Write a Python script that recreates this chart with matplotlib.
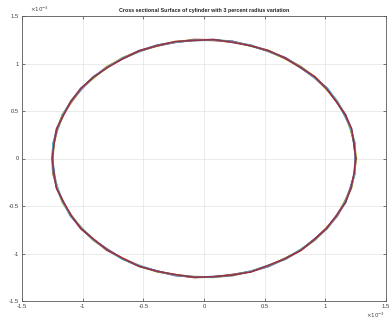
import numpy as np
import matplotlib
matplotlib.use("Agg")
import matplotlib.pyplot as plt
from matplotlib import font_manager

plt.rcParams['font.family'] = ['Liberation Sans', 'DejaVu Sans']

# Use a condensed face for the title when one is installed
try:
    font_manager.findfont('Liberation Sans Narrow', fallback_to_default=False)
    title_family = ['Liberation Sans Narrow', 'Liberation Sans', 'DejaVu Sans']
    title_size = 5.0
except Exception:
    title_family = ['Liberation Sans', 'DejaVu Sans']
    title_size = 3.9

# Sample angles (degrees) around the cross-section
theta_deg = [0.0, 7.2, 14.4, 21.6, 28.8, 36.0, 43.2, 50.4, 57.6, 64.8,
             72.0, 79.2, 86.4, 93.6, 100.8, 108.0, 115.2, 122.4, 129.6, 136.8,
             144.0, 151.2, 158.4, 165.6, 172.8, 180.0, 187.2, 194.4, 201.6, 208.8,
             216.0, 223.2, 230.4, 237.6, 244.8, 252.0, 259.2, 266.4, 273.6, 280.8,
             288.0, 295.2, 302.4, 309.6, 316.8, 324.0, 331.2, 338.4, 345.6, 352.8]

# Measured radii for each run (units of 1e-3)
radius_runs = [
    [1.251, 1.246, 1.254, 1.244, 1.250, 1.257, 1.248, 1.243, 1.253, 1.250,
     1.246, 1.256, 1.251, 1.244, 1.249, 1.255, 1.250, 1.245, 1.253, 1.247,
     1.256, 1.249, 1.252, 1.245, 1.254, 1.250, 1.243, 1.253, 1.248, 1.256,
     1.247, 1.252, 1.244, 1.251, 1.255, 1.246, 1.250, 1.254, 1.245, 1.252,
     1.249, 1.243, 1.255, 1.250, 1.246, 1.253, 1.248, 1.256, 1.245, 1.251],
    [1.246, 1.254, 1.249, 1.252, 1.244, 1.250, 1.256, 1.247, 1.245, 1.254,
     1.251, 1.246, 1.250, 1.257, 1.247, 1.245, 1.253, 1.255, 1.246, 1.251,
     1.249, 1.243, 1.254, 1.250, 1.245, 1.252, 1.256, 1.247, 1.251, 1.246,
     1.253, 1.249, 1.255, 1.244, 1.250, 1.252, 1.247, 1.256, 1.248, 1.244,
     1.253, 1.250, 1.246, 1.255, 1.249, 1.244, 1.252, 1.247, 1.254, 1.250],
    [1.255, 1.250, 1.245, 1.253, 1.249, 1.246, 1.251, 1.256, 1.247, 1.244,
     1.253, 1.250, 1.245, 1.249, 1.254, 1.251, 1.246, 1.250, 1.257, 1.245,
     1.252, 1.254, 1.247, 1.244, 1.250, 1.255, 1.249, 1.246, 1.253, 1.250,
     1.244, 1.256, 1.248, 1.251, 1.246, 1.254, 1.249, 1.245, 1.252, 1.256,
     1.247, 1.250, 1.253, 1.245, 1.251, 1.255, 1.248, 1.246, 1.252, 1.249],
    [1.249, 1.245, 1.252, 1.255, 1.246, 1.251, 1.245, 1.250, 1.256, 1.247,
     1.249, 1.254, 1.246, 1.251, 1.245, 1.250, 1.255, 1.247, 1.249, 1.254,
     1.245, 1.250, 1.246, 1.255, 1.251, 1.247, 1.250, 1.254, 1.245, 1.252,
     1.256, 1.248, 1.244, 1.253, 1.250, 1.246, 1.255, 1.249, 1.251, 1.244,
     1.250, 1.256, 1.247, 1.252, 1.244, 1.251, 1.254, 1.249, 1.246, 1.253],
    [1.252, 1.251, 1.246, 1.249, 1.254, 1.245, 1.250, 1.253, 1.246, 1.255,
     1.245, 1.249, 1.254, 1.247, 1.251, 1.246, 1.249, 1.253, 1.250, 1.244,
     1.251, 1.246, 1.255, 1.249, 1.247, 1.245, 1.254, 1.250, 1.256, 1.247,
     1.250, 1.245, 1.253, 1.248, 1.255, 1.250, 1.244, 1.251, 1.254, 1.247,
     1.252, 1.248, 1.245, 1.250, 1.256, 1.247, 1.251, 1.244, 1.253, 1.250],
    [1.245, 1.255, 1.250, 1.247, 1.253, 1.254, 1.246, 1.249, 1.251, 1.245,
     1.255, 1.247, 1.253, 1.250, 1.246, 1.253, 1.245, 1.251, 1.247, 1.255,
     1.246, 1.253, 1.250, 1.245, 1.255, 1.249, 1.251, 1.245, 1.250, 1.254,
     1.246, 1.252, 1.249, 1.256, 1.245, 1.250, 1.253, 1.246, 1.250, 1.255,
     1.246, 1.253, 1.251, 1.244, 1.250, 1.254, 1.246, 1.251, 1.249, 1.255],
    [1.250, 1.247, 1.256, 1.251, 1.245, 1.249, 1.254, 1.246, 1.250, 1.253,
     1.248, 1.245, 1.255, 1.246, 1.253, 1.249, 1.251, 1.246, 1.245, 1.250,
     1.254, 1.251, 1.245, 1.253, 1.246, 1.251, 1.248, 1.255, 1.246, 1.249,
     1.253, 1.245, 1.251, 1.247, 1.254, 1.249, 1.245, 1.252, 1.247, 1.250,
     1.255, 1.245, 1.249, 1.253, 1.247, 1.250, 1.245, 1.254, 1.251, 1.246],
]

run_colors = ['#0072BD', '#D95319', '#EDB120', '#7E2F8E', '#77AC30', '#4DBEEE', '#A2142F']

x_ticks = [-1.5, -1, -0.5, 0, 0.5, 1, 1.5]
y_ticks = [-1.5, -1, -0.5, 0, 0.5, 1, 1.5]
tick_labels = ['-1.5', '-1', '-0.5', '0', '0.5', '1', '1.5']

fig = plt.figure(figsize=(3.89, 3.26), dpi=100)
ax = fig.add_axes([22 / 389, 25 / 326, 364 / 389, 285 / 326])

th = np.deg2rad(np.array(theta_deg + [theta_deg[0]]))
for radii, col in zip(radius_runs, run_colors):
    r = np.array(radii + [radii[0]])
    ax.plot(r * np.cos(th), r * np.sin(th), color=col, lw=1.2, alpha=0.8)

ax.set_xlim(-1.5, 1.5)
ax.set_ylim(-1.5, 1.5)
ax.set_xticks(x_ticks)
ax.set_yticks(y_ticks)
ax.set_xticklabels(tick_labels)
ax.set_yticklabels(tick_labels)
ax.tick_params(direction='in', length=2.5, width=0.5, labelsize=4.2,
               colors='#404040', pad=2, top=True, right=True)
ax.grid(True, color='#e3e3e3', lw=0.5)
ax.set_axisbelow(True)
for s in ax.spines.values():
    s.set_color('#5a5a5a')
    s.set_linewidth(0.6)

ax.set_title('Cross sectional Surface of cylinder with 3 percent radius variation',
             fontsize=title_size, fontweight='bold', color='#222222', pad=3,
             family=title_family)

fig.text(30 / 389, 1 - 12 / 326, r'$\times 10^{-3}$', fontsize=4, color='#444444',
         ha='left', va='baseline')
fig.text(376 / 389, 1 - 318 / 326, r'$\times 10^{-3}$', fontsize=4, color='#444444',
         ha='center', va='baseline')

fig.savefig('out.png', dpi=100)
